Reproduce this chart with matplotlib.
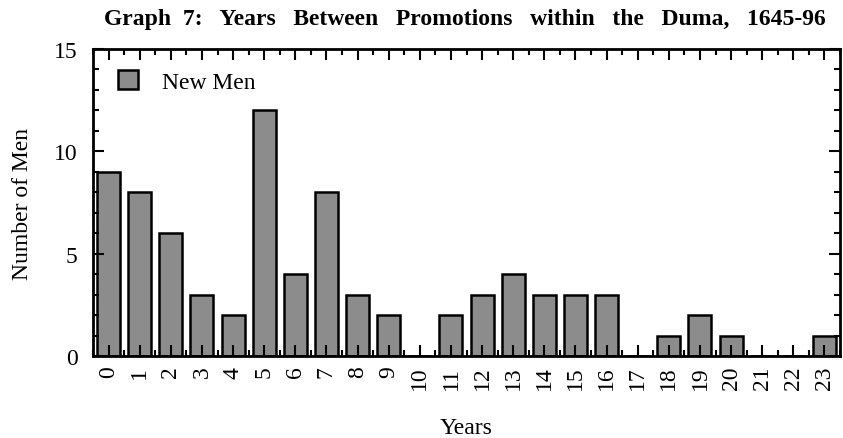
import numpy as np
import matplotlib.pyplot as plt
from matplotlib.ticker import MultipleLocator

plt.rcParams['font.family'] = ['Liberation Serif', 'DejaVu Serif']

years = list(range(24))
new_men = [9, 8, 6, 3, 2, 12, 4, 8, 3, 2, 0, 2, 3, 4, 3, 3, 3, 0, 1, 2, 1, 0, 0, 1]

fig = plt.figure(figsize=(8.43, 4.39), dpi=100)
ax = fig.add_axes([93/843, 1 - 357/439, 747/843, 307/439])

ax.bar(years, new_men, width=0.74, color='#8c8c8c', edgecolor='black', lw=1.8, label='New Men')

ax.set_xlim(-0.5, 23.5)
ax.set_ylim(0, 15)
ax.set_xticks(years)
ax.set_xticklabels([str(y) for y in years], rotation=90, fontsize=17)
ax.xaxis.set_minor_locator(MultipleLocator(0.5))
ax.yaxis.set_major_locator(MultipleLocator(5))
ax.yaxis.set_minor_locator(MultipleLocator(1))
ax.tick_params(which='both', direction='in', top=True, right=True, width=1.5)
ax.tick_params(which='major', length=8, labelsize=17)
ax.tick_params(axis='x', which='major', pad=7)
ax.tick_params(axis='y', which='major', pad=11)
ax.tick_params(which='minor', length=4)
for s in ax.spines.values():
    s.set_linewidth(2)

ax.set_xlabel('Years', fontsize=17, labelpad=20)
ax.set_ylabel('Number of Men', fontsize=17, labelpad=15)
fig.text(465/843, 1 - 19/439, 'Graph  7:   Years   Between   Promotions   within   the   Duma,   1645-96',
         ha='center', va='center', fontsize=17, fontweight='bold')

leg = ax.legend(loc='upper left', frameon=False, fontsize=17, handlelength=0.85,
                handleheight=0.85, borderaxespad=0.6, handletextpad=1.0,
                borderpad=0.3, bbox_to_anchor=(0.005, 1.0))

fig.savefig('out.png', dpi=100)
